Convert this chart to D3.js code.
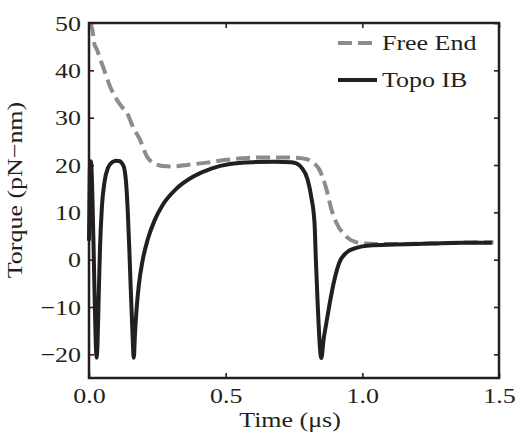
<!DOCTYPE html>
<html>
<head>
<meta charset="utf-8">
<script src="https://cdn.jsdelivr.net/npm/d3@7"></script>
<style>
  body { margin: 0; background: #fff; }
  svg text { font-family: "Liberation Serif", "Times New Roman", Times, serif; fill: #231f20; }
</style>
</head>
<body>
<div id="div_chart"></div>
<script>
// Free End (gray dashed)
var freeTime = [0, 0.011, 0.02, 0.029, 0.04, 0.051, 0.077, 0.102, 0.12, 0.139, 0.161, 0.186, 0.212, 0.23, 0.248,
    0.27, 0.296, 0.33, 0.358, 0.431, 0.504, 0.58, 0.65, 0.72, 0.78, 0.807, 0.825, 0.843, 0.869, 0.887, 0.905,
    0.934, 0.971, 1.01, 1.05, 1.12, 1.245, 1.365, 1.48];
var freeTorque = [50, 49, 45.5, 44.4, 42.5, 40.8, 36.6, 33.8, 32.3, 31, 28, 25.4, 21.8, 20.6, 20.1,
    19.8, 19.7, 19.8, 20, 20.5, 21.1, 21.5, 21.6, 21.6, 21.4, 21, 20.3, 19, 14.8, 10.6, 7.8,
    5.3, 3.8, 3.4, 3.3, 3.3, 3.4, 3.6, 3.7];

// Topo IB (black solid)
var topoTime = [0, 0.003, 0.006, 0.009, 0.013, 0.017, 0.021, 0.025, 0.028, 0.031, 0.035, 0.04, 0.047, 0.057,
    0.07, 0.085, 0.1, 0.113, 0.12, 0.128, 0.136, 0.142, 0.147, 0.152, 0.158, 0.164, 0.168, 0.174, 0.182,
    0.195, 0.215, 0.24, 0.27, 0.32, 0.38, 0.45, 0.515, 0.6, 0.68, 0.74, 0.76, 0.777, 0.8, 0.813, 0.825, 0.83,
    0.836, 0.85, 0.858, 0.868, 0.883, 0.898, 0.916, 0.942, 0.978, 1.026, 1.12, 1.245, 1.365, 1.475];
var topoTorque = [4, 19, 20.8, 19.5, 12, 2, -9, -18, -20.7, -18, -9, 2, 11, 16.5,
    19.5, 20.6, 20.9, 20.8, 20.4, 19.5, 16, 10, 3, -5, -14, -20.7, -16, -10.5, -5.5,
    -0.5, 4.3, 8.3, 11.6, 15, 17.5, 19.3, 20.2, 20.6, 20.7, 20.6, 20.3, 19.5, 16.9, 13.3, 7.8, 0,
    -8.5, -20.8, -17, -13.5, -8.5, -4.2, -0.6, 1.5, 2.5, 3, 3.2, 3.4, 3.6, 3.6];

var xTicks = [0, 0.5, 1.0, 1.5];
var yTicks = [-20, -10, 0, 10, 20, 30, 40, 50];
var seriesNames = ["Free End", "Topo IB"];

var svgWidth = 517, svgHeight = 433;
var margin = {top: 23, right: 18, bottom: 55, left: 89};
var graphWidth = svgWidth - margin.left - margin.right;
var graphHeight = svgHeight - margin.top - margin.bottom;
var stretch = 1.18;   // the text in the picture is a bit wide
var ink = "#231f20", grey = "#8c8c8c";

var svg = d3.select("#div_chart")
    .append("svg")
        .attr("width", svgWidth)
        .attr("height", svgHeight)
    .append("g")
        .attr("transform", "translate(" + margin.left + "," + margin.top + ")");

var x = d3.scaleLinear().domain([0, 1.5]).range([0, graphWidth]);
var y = d3.scaleLinear().domain([-25, 50]).range([graphHeight, 0]);

// Axes (ticks point inward on all four sides)
function styleAxis(g) {
    g.attr("font-family", null);
    g.select(".domain").remove();
    g.selectAll(".tick line").attr("stroke", ink).attr("stroke-width", 1.6);
    g.selectAll(".tick text").style("font-size", "22px").attr("fill", ink);
}

var xAxis = svg.append("g")
    .attr("transform", "translate(0," + graphHeight + ")")
    .call(d3.axisBottom(x).tickValues(xTicks).tickFormat(d3.format(".1f")).tickSizeInner(-5).tickSizeOuter(0).tickPadding(9))
    .call(styleAxis);
xAxis.selectAll(".tick text").attr("transform", "scale(" + stretch + ",1)");

var yAxis = svg.append("g")
    .call(d3.axisLeft(y).tickValues(yTicks).tickSizeInner(-5).tickSizeOuter(0))
    .call(styleAxis);
yAxis.selectAll(".tick text")
    .attr("x", -8 / stretch)
    .attr("transform", "scale(" + stretch + ",1)");

svg.append("g")
    .call(d3.axisTop(x).tickValues(xTicks).tickSizeInner(-5).tickSizeOuter(0).tickFormat(""))
    .call(styleAxis);
svg.append("g")
    .attr("transform", "translate(" + graphWidth + ",0)")
    .call(d3.axisRight(y).tickValues(yTicks).tickSizeInner(-5).tickSizeOuter(0).tickFormat(""))
    .call(styleAxis);

// Lines
var freeData = freeTime.map((t, i) => ({t: t, v: freeTorque[i]}));
var topoData = topoTime.map((t, i) => ({t: t, v: topoTorque[i]}));

var line = d3.line()
    .x(d => x(d.t))
    .y(d => y(d.v))
    .curve(d3.curveMonotoneX);

svg.append("path")
    .datum(freeData)
    .attr("fill", "none")
    .attr("stroke", grey)
    .attr("stroke-width", 4)
    .attr("stroke-dasharray", "14,6")
    .attr("d", line);

svg.append("path")
    .datum(topoData)
    .attr("fill", "none")
    .attr("stroke", ink)
    .attr("stroke-width", 4)
    .attr("stroke-linejoin", "round")
    .attr("d", line);

// Frame
svg.append("rect")
    .attr("width", graphWidth)
    .attr("height", graphHeight)
    .attr("fill", "none")
    .attr("stroke", ink)
    .attr("stroke-width", 2.5);

// Legend
var legend = svg.append("g").attr("transform", "translate(249,20)");
seriesNames.forEach(function (name, i) {
    legend.append("line")
        .attr("x1", 0).attr("x2", 39)
        .attr("y1", i * 37).attr("y2", i * 37)
        .attr("stroke", i === 0 ? grey : ink)
        .attr("stroke-width", 4)
        .attr("stroke-dasharray", i === 0 ? "14,6" : null);
    legend.append("text")
        .attr("transform", "translate(44," + (i * 37 + 7) + ") scale(" + stretch + ",1)")
        .style("font-size", "22px")
        .text(name);
});

// Axis labels
svg.append("text")
    .attr("transform", "translate(" + (290 - margin.left) + "," + (427 - margin.top) + ") scale(" + stretch + ",1)")
    .attr("text-anchor", "middle")
    .style("font-size", "22px")
    .text("Time (\u03bcs)");

svg.append("text")
    .attr("transform", "translate(" + (22 - margin.left) + "," + (190 - margin.top) + ") rotate(-90) scale(" + stretch + ",1)")
    .attr("text-anchor", "middle")
    .style("font-size", "22px")
    .text("Torque (pN\u2212nm)");
</script>
</body>
</html>
